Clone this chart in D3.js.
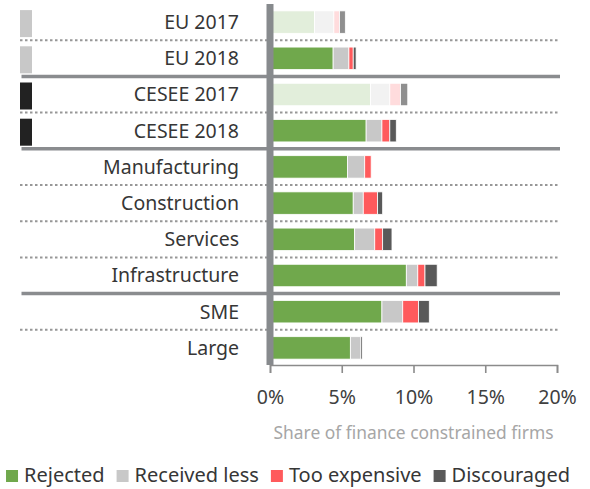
<!DOCTYPE html>
<html>
<head>
<meta charset="utf-8">
<script src="https://cdn.jsdelivr.net/npm/d3@7/dist/d3.min.js"></script>
<style>
  html, body { margin: 0; padding: 0; background: #fff; }
  svg { display: block; font-family: "Noto Sans", "Open Sans", sans-serif; }
</style>
</head>
<body>
<svg id="chart" width="590" height="489"></svg>
<script>
// Row categories, top to bottom
const categories = ["EU 2017", "EU 2018", "CESEE 2017", "CESEE 2018", "Manufacturing",
  "Construction", "Services", "Infrastructure", "SME", "Large"];

// Share of finance constrained firms (%), by type of constraint
const rejected     = [3.1, 4.4, 7.0, 6.7, 5.4, 5.8, 5.9, 9.5, 7.8, 5.6];
const receivedLess = [1.35, 1.1, 1.35, 1.1, 1.2, 0.7, 1.4, 0.8, 1.45, 0.7];
const tooExpensive = [0.4, 0.3, 0.75, 0.55, 0.45, 1.0, 0.55, 0.5, 1.1, 0];
const discouraged  = [0.4, 0.2, 0.5, 0.45, 0, 0.35, 0.65, 0.85, 0.75, 0.12];

const seriesNames = ["Rejected", "Received less", "Too expensive", "Discouraged"];
const xTicks = [0, 5, 10, 15, 20];

// Earlier survey wave shown in lighter tones
const earlierWave = ["EU 2017", "CESEE 2017"];
// Region markers on the far left
const regionRows = { "EU 2017": "EU", "EU 2018": "EU", "CESEE 2017": "CESEE", "CESEE 2018": "CESEE" };
// Separator drawn below each row (except the last)
const separators = ["dot", "solid", "dot", "solid", "dot", "dot", "dot", "solid", "dot"];

const colors      = ["#70a84c", "#c8c8c8", "#ff5a5c", "#595959"];
const fadedColors = ["#e2eedb", "#f2f2f2", "#ffdcdd", "#8f8f8f"];
const regionColors = { EU: "#c8c8c8", CESEE: "#222222" };

const rows = categories.map((c, i) => ({
  category: c,
  "Rejected": rejected[i],
  "Received less": receivedLess[i],
  "Too expensive": tooExpensive[i],
  "Discouraged": discouraged[i]
}));

const svg = d3.select("#chart");

const x = d3.scaleLinear().domain([0, 20]).range([270, 557]);
const y = d3.scaleBand().domain(categories).range([4, 366]).paddingInner(0.38).paddingOuter(0.19);
const step = y.step();

// Row separators
const sepG = svg.append("g");
separators.forEach((type, i) => {
  const yy = y(categories[i]) + y.bandwidth() + (step - y.bandwidth()) / 2;
  const line = sepG.append("line")
    .attr("x1", 20).attr("x2", 560)
    .attr("y1", yy).attr("y2", yy)
    .attr("stroke", type === "solid" ? "#8a8c8f" : "#8c8c8c");
  if (type === "solid") {
    line.attr("stroke-width", 3.5).attr("x1", 21.5);
  } else {
    line.attr("stroke-width", 2).attr("stroke-dasharray", "2.5,2.5").attr("stroke-opacity", 0.9);
  }
});

// Region markers
svg.append("g").selectAll("rect")
  .data(categories.filter(c => regionRows[c]))
  .join("rect")
  .attr("x", 20)
  .attr("width", 12)
  .attr("y", c => y(c) + y.bandwidth() / 2 - 12)
  .attr("height", 27)
  .attr("fill", c => regionColors[regionRows[c]]);

// Stacked bars
const stacked = d3.stack().keys(seriesNames)(rows);
svg.append("g").selectAll("g")
  .data(stacked)
  .join("g")
  .each(function(layer, k) {
    d3.select(this).selectAll("rect")
      .data(layer.filter(d => d[1] - d[0] > 0))
      .join("rect")
      .attr("x", d => x(d[0]))
      .attr("width", d => x(d[1]) - x(d[0]))
      .attr("y", d => y(d.data.category))
      .attr("height", y.bandwidth())
      .attr("fill", d => earlierWave.includes(d.data.category) ? fadedColors[k] : colors[k])
      .attr("stroke", "#fff")
      .attr("stroke-width", 0.8);
  });

// Thick vertical axis at zero
svg.append("rect")
  .attr("x", x(0) - 3.5).attr("y", 4)
  .attr("width", 7).attr("height", 361)
  .attr("fill", "#878a8d");

// Row labels
svg.append("g").selectAll("text")
  .data(categories)
  .join("text")
  .attr("x", 239)
  .attr("y", c => y(c) + y.bandwidth() / 2)
  .attr("dy", "0.355em")
  .attr("text-anchor", "end")
  .attr("font-size", 19.5)
  .attr("fill", "#363636")
  .text(c => c);

// Bottom axis
const axis = svg.append("g")
  .attr("transform", "translate(0,365)")
  .call(d3.axisBottom(x).tickValues(xTicks).tickFormat(d => d + "%").tickSize(8).tickSizeOuter(8).tickPadding(17));
axis.select(".domain").attr("stroke", "#8b8b8b").attr("stroke-width", 1.6);
axis.selectAll(".tick line").attr("stroke", "#8b8b8b").attr("stroke-width", 1.6);
axis.selectAll(".tick text")
  .attr("font-size", 19.5)
  .attr("font-family", "\"Noto Sans\", sans-serif")
  .attr("fill", "#404040");

// Axis title
svg.append("text")
  .attr("x", (x(0) + x(20)) / 2)
  .attr("y", 439)
  .attr("text-anchor", "middle")
  .attr("font-size", 17.4)
  .attr("fill", "#a6a6a6")
  .text("Share of finance constrained firms");

// Legend
const legend = svg.append("g");
const items = seriesNames.map((name, k) => {
  const g = legend.append("g");
  g.append("rect").attr("y", 470).attr("width", 12).attr("height", 12).attr("fill", colors[k]);
  const t = g.append("text").attr("x", 18).attr("y", 482).attr("font-size", 20).attr("fill", "#363636").text(name);
  return { g, w: 18 + t.node().getComputedTextLength() };
});
const gap = 12;
const total = d3.sum(items, d => d.w) + gap * (items.length - 1);
let cx = 288 - total / 2;
items.forEach(it => {
  it.g.attr("transform", `translate(${cx},0)`);
  cx += it.w + gap;
});
</script>
</body>
</html>
